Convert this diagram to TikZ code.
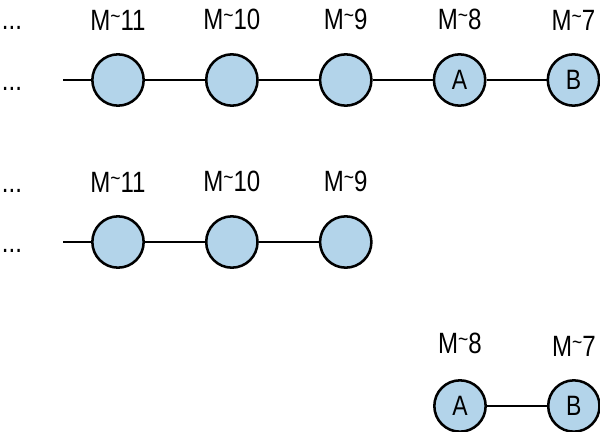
\documentclass[tikz,border=0pt]{standalone}
\usepackage{fontspec}
\setmainfont{Liberation Sans}[FakeStretch=0.82]
\usetikzlibrary{positioning}
\definecolor{nodeblue}{RGB}{179,212,234}
\newcommand\mtilde{\raisebox{.45ex}{\fontsize{16}{16}\selectfont\textasciitilde}}
\tikzset{
  mnode/.style={circle,draw,fill=nodeblue,line width=1.9pt,minimum size=38.5pt,inner sep=0pt,font=\fontsize{21}{24}\selectfont},
  mlabel/.style={font=\fontsize{22}{24}\selectfont,inner sep=0pt},
  more/.style={font=\fontsize{22}{24}\selectfont,inner sep=0pt,anchor=base},
  link/.style={line width=1.9pt}
}
\begin{document}
\begin{tikzpicture}[x=0.75pt,y=-0.75pt,node distance=45pt]
\useasboundingbox (0,0) rectangle (600,432);
% first row
\node[more] (d1a) at (12,30) {...}; \node[more] (d1b) at (12,90) {...};
\coordinate (s1) at (63,80);
\node[mnode] (r1a) at (118,80) {}; \node[mnode,right=of r1a] (r1b) {}; \node[mnode,right=of r1b] (r1c) {};
\node[mnode,right=of r1c] (r1d) {A}; \node[mnode,right=of r1d] (r1e) {B};
\node[mlabel,above=17pt of r1a] (t1a) {M\mtilde11}; \node[mlabel,above=17pt of r1b] (t1b) {M\mtilde10};
\node[mlabel,above=17pt of r1c] (t1c) {M\mtilde9}; \node[mlabel,above=17pt of r1d] (t1d) {M\mtilde8};
\node[mlabel,above=17pt of r1e] (t1e) {M\mtilde7};
\draw[link] (s1)--(r1a) (r1a)--(r1b) (r1b)--(r1c) (r1c)--(r1d) (r1d)--(r1e);
% second row
\node[more] (d2a) at (12,192) {...}; \node[more] (d2b) at (12,252) {...};
\coordinate (s2) at (63,242);
\node[mnode] (r2a) at (118,242) {}; \node[mnode,right=of r2a] (r2b) {}; \node[mnode,right=of r2b] (r2c) {};
\node[mlabel,above=17pt of r2a] (t2a) {M\mtilde11}; \node[mlabel,above=17pt of r2b] (t2b) {M\mtilde10};
\node[mlabel,above=17pt of r2c] (t2c) {M\mtilde9};
\draw[link] (s2)--(r2a) (r2a)--(r2b) (r2b)--(r2c);
% third row
\node[mnode] (r3a) at (460,406) {A}; \node[mnode,right=of r3a] (r3b) {B};
\node[mlabel,above=19pt of r3a] (t3a) {M\mtilde8}; \node[mlabel,above=17pt of r3b] (t3b) {M\mtilde7};
\draw[link] (r3a)--(r3b);
\end{tikzpicture}
\end{document}
